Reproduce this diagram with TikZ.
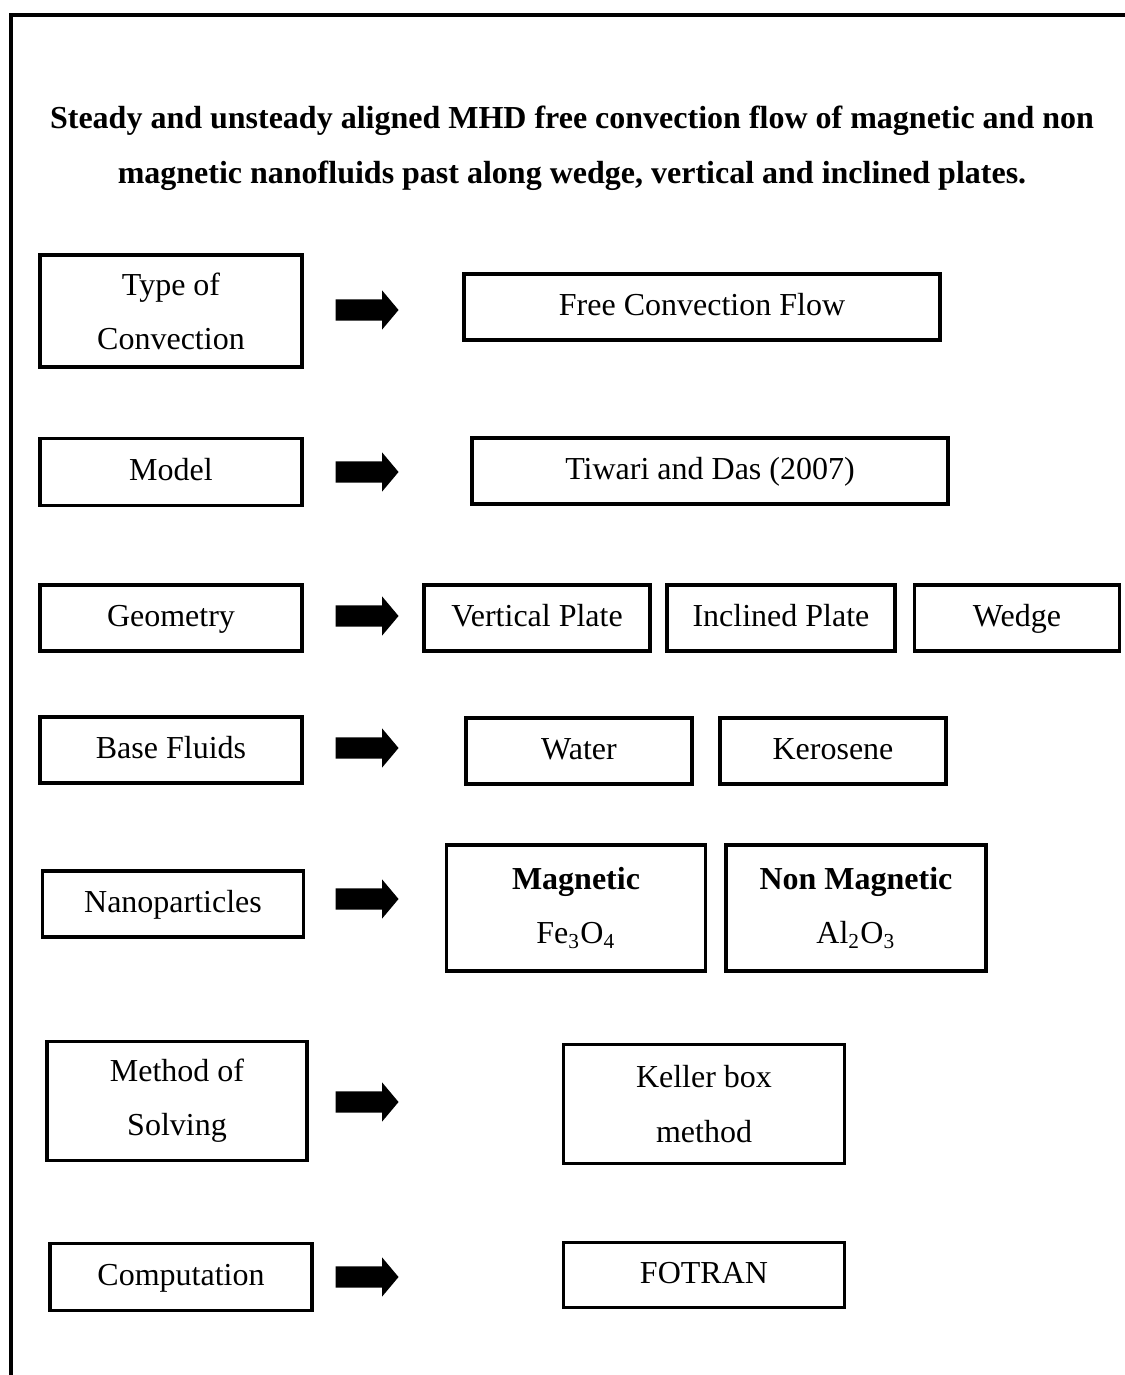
\documentclass[tikz,border=0pt]{standalone}
\usepackage{fontspec}
\setmainfont{Liberation Serif}
\usetikzlibrary{shapes.arrows}
\newcommand{\pxl}{0.375pt}
\tikzset{
    box/.style={draw,line width=1.2pt,inner sep=0pt,align=center},
    onebox/.style={box,text height=8.6pt,text depth=2.6pt},
    bigarrow/.style={single arrow,fill=black,draw=none,inner xsep=0pt,inner ysep=10*\pxl,
        minimum height=63*\pxl,single arrow head extend=9*\pxl,
        single arrow tip angle=100,anchor=tail}
}
\begin{document}
\begin{tikzpicture}[x=\pxl,y=-\pxl,font=\fontsize{12}{20.3}\selectfont]
                \useasboundingbox (0,0) rectangle (1125,1375);
                \draw[line width=1.5pt] (10.5,1375) -- (10.5,14.5) -- (1125,14.5);

                \node[align=center,font=\fontsize{12}{20.6}\selectfont\bfseries] (t) at (572,148)
                    {Steady and unsteady aligned MHD free convection flow of magnetic and non\\
                     magnetic nanofluids past along wedge, vertical and inclined plates.};

                % left column
                \node[box,minimum width=262*\pxl,minimum height=112*\pxl] (tc) at (171,311) {Type of\\Convection};
                \node[onebox,minimum width=262*\pxl,minimum height=67*\pxl] (mo) at (171,472) {Model};
                \node[onebox,minimum width=262*\pxl,minimum height=66*\pxl] (ge) at (171,618) {Geometry};
                \node[onebox,minimum width=262*\pxl,minimum height=66*\pxl] (bf) at (171,750) {Base Fluids};
                \node[onebox,minimum width=261*\pxl,minimum height=66*\pxl] (np) at (173,904) {Nanoparticles};
                \node[box,minimum width=260*\pxl,minimum height=119*\pxl] (ms) at (177,1101) {Method of\\Solving};
                \node[onebox,minimum width=262*\pxl,minimum height=67*\pxl] (co) at (181,1277) {Computation};

                % arrows
                \node[bigarrow] (a1) at (335,310) {};
                \node[bigarrow] (a2) at (335,472) {};
                \node[bigarrow] (a3) at (335,616) {};
                \node[bigarrow] (a4) at (335,748) {};
                \node[bigarrow] (a5) at (335,899) {};
                \node[bigarrow] (a6) at (335,1102) {};
                \node[bigarrow] (a7) at (335,1277) {};

                % right column
                \node[onebox,minimum width=476*\pxl,minimum height=66*\pxl] (fc) at (702,307) {Free Convection Flow};
                \node[onebox,minimum width=476*\pxl,minimum height=66*\pxl] (td) at (710,471) {Tiwari and Das (2007)};
                \node[onebox,minimum width=226*\pxl,minimum height=66*\pxl] (vp) at (537,618) {Vertical Plate};
                \node[onebox,minimum width=228*\pxl,minimum height=66*\pxl] (ip) at (781,618) {Inclined Plate};
                \node[onebox,minimum width=205*\pxl,minimum height=66*\pxl] (we) at (1017,618) {Wedge};
                \node[onebox,minimum width=226*\pxl,minimum height=66*\pxl] (wa) at (579,751) {Water};
                \node[onebox,minimum width=226*\pxl,minimum height=66*\pxl] (ke) at (833,751) {Kerosene};
                \node[box,minimum width=259*\pxl,minimum height=126*\pxl] (mg) at (576,908)
                    {\textbf{Magnetic}\\Fe\textsubscript{3}O\textsubscript{4}};
                \node[box,minimum width=260*\pxl,minimum height=126*\pxl] (nm) at (856,908)
                    {\textbf{Non Magnetic}\\Al\textsubscript{2}O\textsubscript{3}};
                \node[box,minimum width=281*\pxl,minimum height=119*\pxl] (kb) at (704,1104) {Keller box\\method};
                \node[onebox,minimum width=281*\pxl,minimum height=65*\pxl] (ft) at (704,1275) {FOTRAN};
            \end{tikzpicture}
\end{document}
